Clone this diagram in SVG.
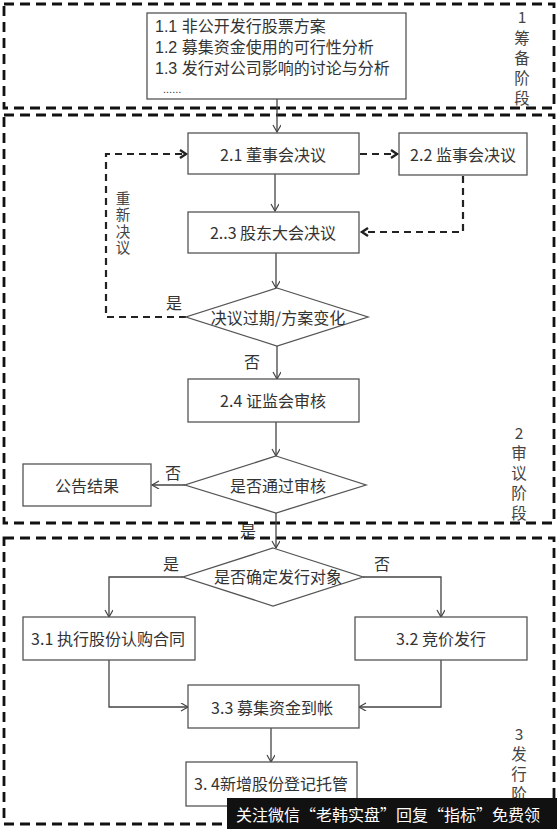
<svg xmlns="http://www.w3.org/2000/svg" width="557" height="829" viewBox="0 0 557 829">
<defs>
<style>
.stage{fill:none;stroke:#111;stroke-width:2.8;stroke-dasharray:10 6}
.box{fill:#fff;stroke:#555;stroke-width:1.3}
.t{font-family:"Noto Sans CJK SC","Liberation Sans",sans-serif;font-size:16px;fill:#333;text-anchor:middle;dominant-baseline:central}
.tl{font-family:"Liberation Sans","Noto Sans CJK SC",sans-serif;font-size:16px;fill:#333;dominant-baseline:central}
.lab{font-family:"Noto Sans CJK SC","Liberation Sans",sans-serif;font-size:15.5px;fill:#444;text-anchor:middle;dominant-baseline:central}
.vl{font-family:"Noto Sans CJK SC","Liberation Sans",sans-serif;font-size:14.5px;fill:#444;writing-mode:vertical-rl;letter-spacing:2px}
.c{fill:none;stroke:#444;stroke-width:1.3}
.cd{fill:none;stroke:#222;stroke-width:2.2;stroke-dasharray:7 5}
</style>
<marker id="a" markerWidth="10" markerHeight="10" refX="8" refY="4" orient="auto" markerUnits="userSpaceOnUse">
<path d="M1,0 L8,4 L1,8" fill="none" stroke="#444" stroke-width="1.2"/>
</marker>
<marker id="ad" markerWidth="12" markerHeight="12" refX="9" refY="5" orient="auto" markerUnits="userSpaceOnUse">
<path d="M2,1 L8,5 L2,9" fill="none" stroke="#222" stroke-width="2.4"/>
</marker>
</defs>
<rect width="557" height="829" fill="#fff"/>

<g id="stages">
<rect class="stage" x="4" y="4" width="550" height="104"/>
<rect class="stage" x="4" y="115" width="550" height="408"/>
<rect class="stage" x="4" y="538" width="550" height="286"/>
</g>

<g id="stage-labels">
<text class="lab" x="522" y="16">1</text>
<text class="lab" x="522" y="37">筹</text>
<text class="lab" x="522" y="57">备</text>
<text class="lab" x="522" y="77">阶</text>
<text class="lab" x="522" y="97">段</text>
<text class="lab" x="519" y="432">2</text>
<text class="lab" x="519" y="452">审</text>
<text class="lab" x="519" y="472">议</text>
<text class="lab" x="519" y="492">阶</text>
<text class="lab" x="519" y="512">段</text>
<text class="lab" x="519" y="733">3</text>
<text class="lab" x="519" y="753">发</text>
<text class="lab" x="519" y="773">行</text>
<text class="lab" x="519" y="793">阶</text>
</g>

<g id="connectors">
<path class="c" d="M277,99 V132" marker-end="url(#a)"/>
<path class="cd" d="M360,154 H398" marker-end="url(#ad)"/>
<path class="cd" d="M463,176 V232 H361" marker-end="url(#ad)"/>
<path class="c" d="M275,174 V211" marker-end="url(#a)"/>
<path class="c" d="M276,253 V288" marker-end="url(#a)"/>
<path class="cd" d="M186,317 H106 V154 H187" marker-end="url(#ad)"/>
<path class="c" d="M277,346 V379" marker-end="url(#a)"/>
<path class="c" d="M276,422 V456" marker-end="url(#a)"/>
<path class="c" d="M185,485 H152" marker-end="url(#a)"/>
<path class="c" d="M276,513 V548" marker-end="url(#a)"/>
<path class="c" d="M183,577 H109 V617" marker-end="url(#a)"/>
<path class="c" d="M363,577 H441 V617" marker-end="url(#a)"/>
<path class="c" d="M109,660 V707 H188" marker-end="url(#a)"/>
<path class="c" d="M441,660 V707 H359" marker-end="url(#a)"/>
<path class="c" d="M271,728 V762" marker-end="url(#a)"/>
</g>

<g id="edge-labels">
<text class="vl" x="123" y="191">重新决议</text>
<text class="t" x="174" y="302">是</text>
<text class="t" x="252" y="361">否</text>
<text class="t" x="173" y="472">否</text>
<text class="t" x="248" y="530">是</text>
<text class="t" x="171" y="563">是</text>
<text class="t" x="382" y="563">否</text>
</g>

<g id="n-prep">
<rect class="box" x="147" y="13" width="259" height="86"/>
<text class="tl"><tspan x="155" y="26">1.1 非公开发行股票方案</tspan><tspan x="155" y="47">1.2 募集资金使用的可行性分析</tspan><tspan x="155" y="68">1.3 发行对公司影响的讨论与分析</tspan><tspan x="163" y="89" style="font-size:11px">......</tspan></text>
</g>

<g id="n-21">
<rect class="box" x="188" y="133" width="171" height="41"/>
<text class="t" x="273" y="154">2.1 董事会决议</text>
</g>
<g id="n-22">
<rect class="box" x="399" y="133" width="128" height="42"/>
<text class="t" x="463" y="154">2.2 监事会决议</text>
</g>
<g id="n-23">
<rect class="box" x="188" y="212" width="171" height="41"/>
<text class="t" x="273" y="232">2..3 股东大会决议</text>
</g>
<g id="n-d1">
<polygon class="box" points="277,288 368,317 277,346 186,317"/>
<text class="t" x="278" y="317">决议过期/方案变化</text>
</g>
<g id="n-24">
<rect class="box" x="188" y="379" width="171" height="43"/>
<text class="t" x="273" y="400">2.4 证监会审核</text>
</g>
<g id="n-d2">
<polygon class="box" points="276,456 366,485 276,513 185,485"/>
<text class="t" x="278" y="485">是否通过审核</text>
</g>
<g id="n-gg">
<rect class="box" x="23" y="464" width="128" height="42"/>
<text class="t" x="87" y="485">公告结果</text>
</g>
<g id="n-d3">
<polygon class="box" points="273,548 363,577 273,606 183,577"/>
<text class="t" x="278" y="576">是否确定发行对象</text>
</g>
<g id="n-31">
<rect class="box" x="23" y="617" width="172" height="43"/>
<text class="t" x="108" y="638">3.1 执行股份认购合同</text>
</g>
<g id="n-32">
<rect class="box" x="355" y="617" width="172" height="43"/>
<text class="t" x="441" y="638">3.2 竞价发行</text>
</g>
<g id="n-33">
<rect class="box" x="188" y="685" width="171" height="43"/>
<text class="t" x="272" y="707">3.3 募集资金到帐</text>
</g>
<g id="n-34">
<rect class="box" x="186" y="762" width="171" height="44"/>
<text class="t" x="271" y="783">3. 4新增股份登记托管</text>
</g>

<g id="watermark">
<rect x="227" y="798" width="330" height="31" fill="#111"/>
<text x="236" y="814" style="font-family:'Noto Sans CJK SC',sans-serif;font-size:16px;fill:#fff;dominant-baseline:central">关注微信“老韩实盘”回复“指标”免费领</text>
</g>
</svg>
